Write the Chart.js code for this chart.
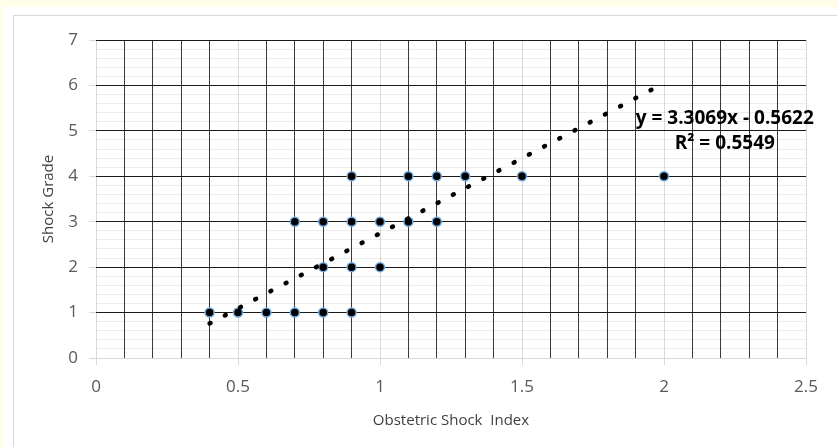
<!DOCTYPE html>
<html>
<head>
<meta charset="utf-8">
<script src="https://cdn.jsdelivr.net/npm/chart.js@4.4.0/dist/chart.umd.min.js"></script>
<style>
  html, body { margin: 0; padding: 0; background: #fffce8; overflow: hidden; }
  #panel { position: absolute; left: 3px; top: 7px; width: 840px; height: 450px; background: #fff; }
  #frame { position: absolute; left: 13px; top: 15px; width: 840px; height: 450px;
           border-left: 1px solid #d9d9d9; border-top: 1px solid #d9d9d9; }
  #wrap { position: absolute; left: 0; top: 0; width: 837px; height: 447px; }
</style>
</head>
<body>
<div id="panel"></div>
<div id="frame"></div>
<div id="wrap"><canvas id="shockChart" width="837" height="447"></canvas></div>
<script>
// observed points (shock index, grade)
const shockIndex = [0.4, 0.5, 0.6, 0.7, 0.8, 0.9,
                    0.8, 0.9, 1.0,
                    0.7, 0.8, 0.9, 1.0, 1.1, 1.2,
                    0.9, 1.1, 1.2, 1.3, 1.5, 2.0];
const shockGrade = [1, 1, 1, 1, 1, 1,
                    2, 2, 2,
                    3, 3, 3, 3, 3, 3,
                    4, 4, 4, 4, 4, 4];

// linear trendline ends, as drawn
const trendX = [0.4, 2.0];
const trendY = [0.76, 6.05];
const trendText = ['y = 3.3069x - 0.5622', 'R\u00b2 = 0.5549'];

const xTickLabels = ['0', '0.5', '1', '1.5', '2', '2.5'];

const points = shockIndex.map((x, i) => ({ x: x, y: shockGrade[i] }));
const trend = trendX.map((x, i) => ({ x: x, y: trendY[i] }));

const tenths = v => Math.round(v * 10);
const fifths = v => Math.round(v * 5);

const trendLabel = {
  id: 'trendLabel',
  afterDatasetsDraw(c) {
    const ctx = c.ctx;
    const xs = c.scales.x, ys = c.scales.y;
    ctx.save();
    ctx.fillStyle = '#000';
    ctx.font = 'bold 19px "Open Sans"';
    ctx.textAlign = 'center';
    ctx.textBaseline = 'middle';
    ctx.fillText(trendText[0], xs.getPixelForValue(2.214), ys.getPixelForValue(5.26));
    ctx.fillText(trendText[1], xs.getPixelForValue(2.214), ys.getPixelForValue(4.71));
    ctx.restore();
  }
};

const ctx = document.getElementById('shockChart').getContext('2d');
new Chart(ctx, {
  type: 'scatter',
  data: {
    datasets: [{
      label: 'trend',
      type: 'line',
      data: trend,
      borderColor: '#000',
      borderWidth: 4.5,
      borderDash: [1, 16.2],
      borderCapStyle: 'round',
      pointRadius: 0,
      fill: false,
      order: 0
    }, {
      label: 'grade',
      data: points,
      backgroundColor: '#000',
      borderColor: '#6fa8dc',
      borderWidth: 1.5,
      pointRadius: 4.5,
      order: 1
    }]
  },
  options: {
    responsive: false,
    animation: false,
    layout: { padding: { left: 14, right: 31, top: 40, bottom: 17 } },
    plugins: { legend: { display: false }, tooltip: { enabled: false } },
    scales: {
      x: {
        type: 'linear',
        min: 0, max: 2.5,
        afterFit: s => { s.height = 447 - 17 - 358; },
        border: { display: false },
        grid: {
          color: c => tenths(c.tick.value) % 5 === 0 ? '#d9d9d9' : '#3a3a3a',
          tickColor: c => tenths(c.tick.value) % 5 === 0 ? '#d9d9d9' : 'rgba(0,0,0,0)',
          tickLength: 7,
          lineWidth: 1
        },
        ticks: {
          stepSize: 0.1,
          autoSkip: false,
          maxRotation: 0,
          padding: 12,
          color: '#595959',
          font: { family: 'Open Sans', size: 17 },
          callback: v => tenths(v) % 5 === 0 ? xTickLabels[tenths(v) / 5] : ''
        },
        title: {
          display: true,
          text: 'Obstetric Shock  Index',
          color: '#404040',
          font: { family: 'Open Sans', size: 15 },
          padding: { top: 4, bottom: 0 }
        }
      },
      y: {
        min: 0, max: 7,
        afterFit: s => { s.width = 82; },
        border: { display: false },
        grid: {
          color: c => {
            const v = fifths(c.tick.value);
            if (v === 0) return '#d9d9d9';
            return v % 5 === 0 ? '#1a1a1a' : 'rgba(0,0,0,0.07)';
          },
          tickColor: c => fifths(c.tick.value) % 5 === 0 ? '#d9d9d9' : 'rgba(0,0,0,0)',
          tickLength: 7,
          lineWidth: 1
        },
        ticks: {
          stepSize: 0.2,
          autoSkip: false,
          padding: 11,
          color: '#595959',
          font: { family: 'Open Sans', size: 17 },
          callback: v => fifths(v) % 5 === 0 ? String(Math.round(v)) : ''
        },
        title: {
          display: true,
          text: 'Shock Grade',
          color: '#404040',
          font: { family: 'Open Sans', size: 15 },
          padding: { top: 26, bottom: 0 }
        }
      }
    }
  },
  plugins: [trendLabel]
});
</script>
</body>
</html>
